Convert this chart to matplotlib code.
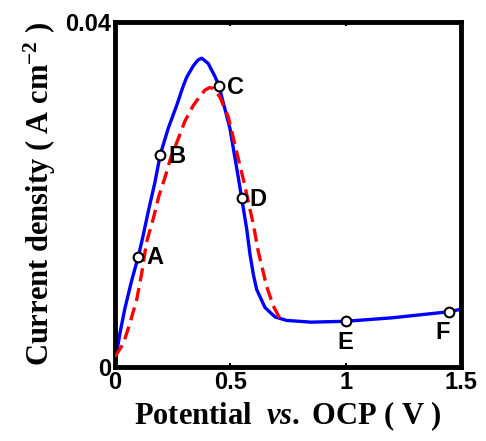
import matplotlib.pyplot as plt

plt.rcParams['mathtext.fontset'] = 'custom'
plt.rcParams['mathtext.rm'] = 'Liberation Serif:bold'
plt.rcParams['mathtext.bf'] = 'Liberation Serif:bold'
plt.rcParams['mathtext.bfit'] = 'Liberation Serif:bold:italic'
plt.rcParams['mathtext.it'] = 'Liberation Serif:bold:italic'

# blue solid curve
blue_v = [0.0, 0.007, 0.022, 0.043, 0.072, 0.101, 0.120, 0.144, 0.173, 0.196, 0.231,
          0.267, 0.296, 0.311, 0.339, 0.360, 0.376, 0.404, 0.433, 0.451, 0.462, 0.498,
          0.535, 0.549, 0.571, 0.585, 0.600, 0.614, 0.650, 0.694, 0.744, 0.850, 1.0,
          1.2, 1.446, 1.5]
blue_i = [0.0008, 0.0016, 0.0040, 0.0068, 0.0100, 0.0128, 0.0150, 0.0180, 0.0214, 0.0246, 0.0277,
          0.0303, 0.0326, 0.0336, 0.0349, 0.0356, 0.0358, 0.0352, 0.0337, 0.0326, 0.0314, 0.0277,
          0.0219, 0.0196, 0.0160, 0.0131, 0.0107, 0.0090, 0.0069, 0.0058, 0.0054, 0.0052, 0.0053,
          0.0057, 0.0064, 0.0067]

# red dashed curve
red_v = [0.0, 0.036, 0.065, 0.094, 0.116, 0.137, 0.166, 0.190, 0.217, 0.241, 0.282,
         0.303, 0.339, 0.368, 0.390, 0.410, 0.426, 0.455, 0.491, 0.527, 0.563, 0.600,
         0.621, 0.658, 0.686, 0.715]
red_i = [0.0012, 0.0027, 0.0051, 0.0078, 0.0109, 0.0145, 0.0172, 0.0198, 0.0220, 0.0242, 0.0270,
         0.0285, 0.0303, 0.0314, 0.0321, 0.0324, 0.0323, 0.0313, 0.0290, 0.0250, 0.0210, 0.0165,
         0.0134, 0.0093, 0.0071, 0.0056]

# labelled points
pt_names = ['A', 'B', 'C', 'D', 'E', 'F']
pt_v = [0.101, 0.196, 0.451, 0.549, 1.0, 1.446]
pt_i = [0.0128, 0.0246, 0.0326, 0.0196, 0.0053, 0.0064]
pt_offsets = [(12, -1), (12, -1), (12, -1), (12, -1), (0, -15), (-4, -15)]

fig = plt.figure(figsize=(4.86, 4.41), dpi=100)
ax = fig.add_axes([115 / 486, 1 - 367 / 441, 346 / 486, 345 / 441])

ax.plot(blue_v, blue_i, color='#0000ff', lw=2.4, zorder=2)
ax.plot(red_v, red_i, color='#ff0000', lw=2.4, ls=(0, (4, 2)), zorder=3)
ax.plot(pt_v, pt_i, 'o', ms=7, mfc='white', mec='black', mew=1.5, zorder=4)

for name, v, i, (dx, dy) in zip(pt_names, pt_v, pt_i, pt_offsets):
    ax.annotate(name, (v, i), xytext=(dx, dy), textcoords='offset points',
                ha='center', va='center', fontsize=17, fontweight='bold',
                family='Liberation Sans')

ax.set_xlim(0, 1.5)
ax.set_ylim(0, 0.04)
ax.set_xticks([0, 0.5, 1, 1.5])
ax.set_xticklabels(['0', '0.5', '1', '1.5'])
ax.set_yticks([0, 0.04])
ax.set_yticklabels(['0', '0.04'])
ax.tick_params(direction='in', top=True, right=True, length=3, width=1.5, pad=3)
for lab in ax.get_xticklabels() + ax.get_yticklabels():
    lab.set_fontsize(17)
    lab.set_fontweight('bold')
    lab.set_family('Liberation Sans')
for s in ax.spines.values():
    s.set_linewidth(3.5)

ax.set_xlabel(r'Potential  $\mathit{vs.}$ OCP ( V )', fontsize=22, fontweight='bold',
              family='Liberation Serif', labelpad=4)
ax.set_ylabel(r'Current density ( A cm$^{\mathbf{-2}}$ )', fontsize=22, fontweight='bold',
              family='Liberation Serif', labelpad=5)

fig.savefig('out.png', dpi=100)
